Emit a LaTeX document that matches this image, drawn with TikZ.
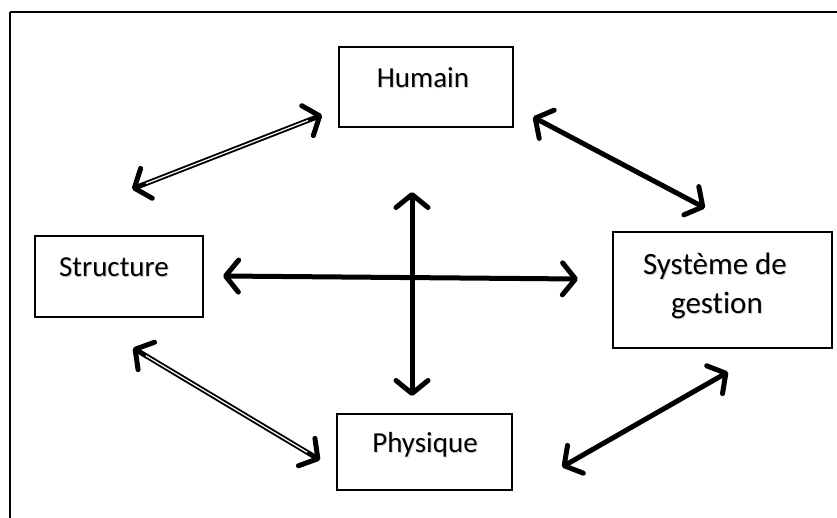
\documentclass[tikz,border=0pt]{standalone}
\usepackage{fontspec}
\setmainfont[Ligatures={NoCommon,NoContextual}]{Carlito}
\usetikzlibrary{arrows.meta}
\tikzset{
  box/.style={draw, line width=1.8pt, rectangle, inner sep=0pt},
  lab/.style={anchor=base, inner sep=0pt, font=\fontsize{29}{34}\selectfont},
  biglab/.style={anchor=base, inner sep=0pt, font=\fontsize{31}{38}\selectfont},
  shade/.style={text=black!18},
  link/.style={line width=5pt, line cap=round, {Straight Barb[length=13pt,width=32pt,line width=5pt,round]}-{Straight Barb[length=13pt,width=32pt,line width=5pt,round]}},
  hollow/.style={white, line width=1.2pt, shorten <=15pt, shorten >=15pt},
}
\begin{document}
\begin{tikzpicture}[x=1pt,y=-1pt]
\useasboundingbox (0,0) rectangle (837,518);
% outer frame, running off the page on the right and at the bottom
\draw[line width=2.2pt] (10,12) -- (850,12);
\draw[line width=2.2pt] (10,12) -- (10,530);

% boxes
\node[box, minimum width=174pt, minimum height=80pt] (hum) at (426,87) {};
\node[box, minimum width=168pt, minimum height=81pt] (str) at (119,276.5) {};
\node[box, minimum width=219pt, minimum height=116pt] (sys) at (722.5,290) {};
\node[box, minimum width=175pt, minimum height=76pt] (phy) at (424.5,452) {};

% soft text shadows
\node[lab, shade] (humsh) at (424,89) {Humain};
\node[lab, shade] (strsh) at (115,278) {Structure};
\node[biglab, shade] (syssh1) at (716,276) {Système de};
\node[biglab, shade] (syssh2) at (718,314) {gestion};
\node[lab, shade] (physh) at (426,453) {Physique};

% labels
\node[lab] (humt) at (423,88) {Humain};
\node[lab] (strt) at (114,277) {Structure};
\node[biglab] (syst1) at (715,275) {Système de};
\node[biglab] (syst2) at (717,313) {gestion};
\node[lab] (phyt) at (425,452) {Physique};

% arrow ends
\coordinate (hs1) at (132,189);  \coordinate (hs2) at (322,115);
\coordinate (hg1) at (533,117);  \coordinate (hg2) at (705,208);
\coordinate (cl) at (223,276);   \coordinate (cr) at (578,279);
\coordinate (ct) at (412,192);   \coordinate (cb) at (412,396);
\coordinate (sp1) at (133,348);  \coordinate (sp2) at (320,460);
\coordinate (pg1) at (562,467);  \coordinate (pg2) at (728,372);

% links
\draw[link] (hs1) -- (hs2);
\draw[hollow] (hs1) -- (hs2);
\draw[link] (hg1) -- (hg2);
\draw[link] (cl) -- (cr);
\draw[link] (ct) -- (cb);
\draw[link] (sp1) -- (sp2);
\draw[hollow] (sp1) -- (sp2);
\draw[link] (pg1) -- (pg2);
\end{tikzpicture}
\end{document}
